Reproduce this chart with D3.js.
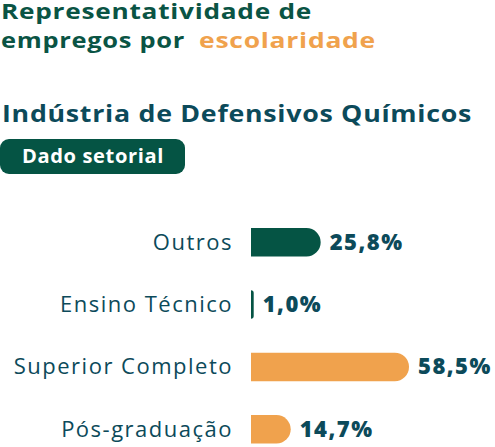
<!DOCTYPE html>
<html><head><meta charset="utf-8">
<script src="https://cdn.jsdelivr.net/npm/d3@7"></script>
<style>body{margin:0;background:#fff;} svg{display:block;}</style>
</head><body>
<script>
const categories = ["Outros", "Ensino Técnico", "Superior Completo", "Pós-graduação"];
const values = [25.8, 1.0, 58.5, 14.7];
const valueLabels = ["25,8%", "1,0%", "58,5%", "14,7%"];
const barColors = ["#055444", "#055444", "#f0a24d", "#f0a24d"];

const W = 495, H = 447;
const svg = d3.select("body").append("svg").attr("width", W).attr("height", H);
const teal = "#0c4a5a", green = "#0a5444", orange = "#f0a24d";
const font = "'Open Sans', sans-serif";

function txt(x, y, s, size, weight, fill, len) {
  const t = svg.append("text").attr("x", x).attr("y", y).attr("font-family", font)
    .attr("font-weight", weight).attr("font-size", size).attr("fill", fill)
    .attr("letter-spacing", 0.6).text(s);
  if (len) t.attr("textLength", len).attr("lengthAdjust", "spacingAndGlyphs");
  return t;
}
txt(1, 19, "Representatividade de", 21.5, 700, green, 311);
txt(1, 47.5, "empregos por", 21.5, 700, green, 184);
txt(199, 47.5, "escolaridade", 21.5, 700, orange, 177);
txt(2, 122, "Indústria de Defensivos Químicos", 22.5, 700, teal, 470);

svg.append("rect").attr("x", 0).attr("y", 139).attr("width", 185).attr("height", 35)
  .attr("rx", 9).attr("fill", "#055444");
txt(22, 162.5, "Dado setorial", 19.5, 700, "#fff", 142);

const x0 = 251;
const x = d3.scaleLinear().domain([0, 58.5]).range([x0, 409]);
const y = d3.scaleBand().domain(categories).range([228, 443.5]).paddingInner(0.543).paddingOuter(0);

const bh = y.bandwidth();
function barPath(v) {
  const w = x(v) - x0;
  const r = Math.min(bh / 2, w);
  const p = d3.path();
  p.moveTo(0, 0);
  p.lineTo(w - r, 0);
  p.arcTo(w, 0, w, bh / 2, r);
  p.arcTo(w, bh, w - r, bh, r);
  p.lineTo(0, bh);
  p.closePath();
  return p.toString();
}

const g = svg.append("g");
categories.forEach((c, i) => {
  const yy = y(c);
  g.append("path").attr("transform", `translate(${x0},${yy})`).attr("d", barPath(values[i])).attr("fill", barColors[i]);
  g.append("text").attr("x", 233).attr("y", yy + bh / 2 + 7.5).attr("text-anchor", "end")
    .attr("font-family", font).attr("font-weight", 400).attr("font-size", 22).attr("letter-spacing", 1.5)
    .attr("fill", teal).text(c);
  g.append("text").attr("x", x(values[i]) + 9).attr("y", yy + bh / 2 + 7.5)
    .attr("font-family", font).attr("font-weight", 800).attr("font-size", 22).attr("letter-spacing", 1.5)
    .attr("fill", teal).text(valueLabels[i]);
});
</script>
</body></html>
